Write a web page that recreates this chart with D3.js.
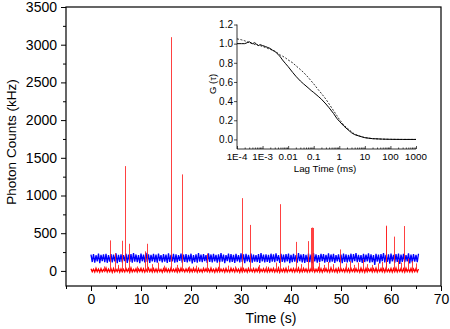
<!DOCTYPE html>
<html><head><meta charset="utf-8">
<script src="https://cdn.jsdelivr.net/npm/d3@7"></script>
<style>
html,body{margin:0;padding:0;background:#fff;}
text{font-family:"Liberation Sans",Arial,sans-serif;fill:#000;}
</style></head>
<body><svg id="c" width="450" height="329"></svg>
<script>
// ---------- data ----------
const timeStep = 0.5; // seconds between samples
const blueHigh = [215,222,208,230,212,219,226,210,224,217, 233,214,221,209,228,216,223,236,218,211,
 229,215,240,220,213,227,218,231,209,222, 216,234,212,225,219,208,230,217,223,214,
 228,211,221,235,215,224,210,232,218,226, 213,220,238,216,209,229,222,214,227,211,
 233,219,225,212,230,217,208,224,236,215, 221,213,228,219,234,210,226,217,222,231,
 214,225,209,237,218,223,212,229,216,235, 220,211,227,224,213,232,218,226,210,221,
 215,230,219,212,228,222,236,214,209,225, 217,233,220,211,227,216,224,238,213,219,
 229,212,222,231,215,226,210,234,218,223, 214,228];
const blueLow = [118,110,125,104,131,115,108,122,112,127, 103,119,114,129,107,121,111,124,116,102,
 128,113,120,106,125,117,109,130,112,123, 105,119,126,110,116,132,108,121,114,127,
 101,118,111,124,115,129,106,120,113,126, 109,117,122,104,130,112,119,107,125,114,
 121,103,128,116,110,123,118,105,127,112, 120,108,124,115,131,106,119,113,126,102,
 117,122,110,128,114,107,121,116,104,125, 111,118,129,109,120,113,123,106,127,115,
 102,119,112,124,108,130,116,121,105,118, 126,111,117,80,123,98,128,114,120,95,
 125,110,118,92,121,115,127,100,112,122, 117,119];
const redHigh = [28,22,35,25,31,19,38,24,29,33, 21,36,27,23,32,26,39,20,30,25,
 34,28,22,37,24,31,27,35,21,29, 33,25,38,23,30,26,36,22,28,32,
 24,37,27,31,20,34,29,25,39,23, 30,35,26,28,33,21,36,27,32,24,
 38,29,25,34,22,31,27,37,23,30, 26,35,28,33,21,39,25,30,36,24,
 29,32,27,38,23,34,26,31,28,35, 22,37,30,25,33,27,40,24,29,36,
 31,26,38,28,34,23,32,27,39,30, 35,25,33,29,37,26,31,28,36,24,
 34,30,38,27,32,29,36,25,33,28, 31,27];
const redLow = [-10,-14,-8,-16,-11,-6,-13,-9,-17,-12, -7,-15,-10,-13,-8,-18,-11,-9,-14,-6,
 -12,-16,-10,-8,-15,-11,-13,-7,-17,-9, -12,-14,-8,-10,-16,-11,-6,-13,-9,-15,
 -12,-8,-17,-10,-14,-7,-11,-13,-9,-16, -10,-12,-8,-15,-11,-14,-6,-13,-9,-17,
 -12,-10,-15,-8,-11,-14,-9,-16,-7,-12, -13,-10,-8,-15,-11,-17,-9,-12,-14,-6,
 -10,-13,-8,-16,-11,-9,-14,-12,-7,-15, -10,-13,-17,-8,-11,-14,-9,-12,-16,-10,
 -7,-13,-11,-15,-8,-12,-10,-14,-9,-17, -11,-6,-13,-10,-15,-8,-12,-14,-9,-11,
 -16,-10,-13,-7,-12,-15,-9,-11,-14,-8, -12,-10];
const spikeTimes  = [2.5,3.7,4.7,5.3,6.1,6.7,7.6,9.2,10.7,11.2,12.1,13.3,14.6,15.9,17.2,18.1,19.5,21.0,23.2,25.6,
 27.4,28.8,30.1,31.7,33.5,35.0,36.9,37.7,39.3,40.9,42.0,43.3,44.0,44.2,44.4,45.6,46.5,47.4,48.3,49.7,
 51.0,51.8,52.6,53.4,54.3,55.2,56.1,57.3,58.2,58.9,59.0,60.5,61.3,62.0,62.5,63.4,64.2,64.9];
const spikeValues = [60,405,235,80,400,1390,360,60,260,360,90,110,70,3100,80,1280,60,70,230,120,
 70,60,965,610,80,60,110,885,70,385,90,395,570,575,570,110,80,120,90,285,
 100,130,80,110,150,90,80,100,120,600,590,455,140,110,595,160,130,100];

const lagTimes = [1e-4,1.5e-4,2e-4,2.5e-4,3e-4,4e-4,5e-4,6e-4,7e-4,8e-4,1e-3,1.3e-3,1.6e-3,2e-3,2.5e-3,3e-3,4e-3,5e-3,6e-3,8e-3,
 0.01,0.015,0.02,0.03,0.04,0.06,0.08,0.1,0.15,0.2,0.3,0.4,0.6,0.8,1,1.5,2,3,4,6,8,10,20,50,100,300,1000];
const gSolid = [1.00,1.00,1.00,1.01,1.02,1.00,1.01,0.99,0.98,0.99,0.98,0.97,0.96,0.95,0.93,0.92,0.89,0.86,0.83,0.79,
 0.76,0.70,0.66,0.61,0.58,0.54,0.51,0.49,0.45,0.42,0.37,0.33,0.27,0.22,0.19,0.14,0.11,0.07,0.05,0.035,0.025,0.018,0.008,0.003,0.001,0.0,0.0];
const gDashed = [1.05,1.04,1.03,1.02,1.01,1.00,0.99,0.99,0.98,0.98,0.97,0.96,0.95,0.94,0.93,0.92,0.90,0.88,0.87,0.85,
 0.83,0.80,0.77,0.73,0.70,0.65,0.61,0.58,0.52,0.48,0.42,0.37,0.30,0.25,0.21,0.15,0.12,0.08,0.055,0.037,0.026,0.019,0.008,0.003,0.001,0.0,0.0];

const xTickVals = [0,10,20,30,40,50,60,70];
const yTickVals = [0,500,1000,1500,2000,2500,3000,3500];
const insetXTicks = [1e-4,1e-3,0.01,0.1,1,10,100,1000];
const insetXLabels = ["1E-4","1E-3","0.01","0.1","1","10","100","1000"];
const insetYTicks = [0.0,0.2,0.4,0.6,0.8,1.0,1.2];

// ---------- main chart ----------
const svg = d3.select("#c");
const x = d3.scaleLinear().domain([-5,70]).range([66,441]);
const y = d3.scaleLinear().domain([-200,3500]).range([286,7]);

// blue trace (zigzag between high and low samples)
const bluePts = [];
blueHigh.forEach((v,i)=>{
  bluePts.push([i*timeStep, v]);
  if(i<blueHigh.length-1) bluePts.push([i*timeStep+timeStep/2, blueLow[i]]);
});
const redPts = [];
redHigh.forEach((v,i)=>{
  redPts.push([i*timeStep, v]);
  if(i<redHigh.length-1) redPts.push([i*timeStep+timeStep/2, redLow[i]]);
});
const line = d3.line().x(d=>x(d[0])).y(d=>y(d[1]));
svg.append("path").attr("d",line(bluePts)).attr("fill","none").attr("stroke","#0000ff").attr("stroke-width",1.3);
svg.append("path").attr("d",line(redPts)).attr("fill","none").attr("stroke","#ff0000").attr("stroke-width",1.3);
const px = d => Math.round(x(d)) + 0.5;
svg.append("g").selectAll("line").data(spikeTimes).join("line")
  .attr("x1",px).attr("x2",px)
  .attr("y1",y(0)).attr("y2",(d,i)=>y(spikeValues[i]))
  .attr("stroke","#ff2020").attr("stroke-opacity",0.85).attr("stroke-width",1);

// frame
svg.append("rect").attr("x",66).attr("y",7).attr("width",375).attr("height",279)
  .attr("fill","none").attr("stroke","#000").attr("stroke-width",1.2);

// axes
const xAxis = d3.axisBottom(x).tickValues(xTickVals).tickSize(5).tickPadding(3).tickFormat(d3.format("d"));
const gx = svg.append("g").attr("transform","translate(0,286)").call(xAxis);
gx.select(".domain").remove();
gx.selectAll("text").attr("font-size",14).style("font-family","Liberation Sans, Arial, sans-serif");
const gxm = svg.append("g").attr("transform","translate(0,286)")
  .call(d3.axisBottom(x).tickValues([-5,5,15,25,35,45,55,65]).tickSize(3).tickFormat(""));
gxm.select(".domain").remove();

const yAxis = d3.axisLeft(y).tickValues(yTickVals).tickSize(5).tickPadding(4).tickFormat(d3.format("d"));
const gy = svg.append("g").attr("transform","translate(66,0)").call(yAxis);
gy.select(".domain").remove();
gy.selectAll("text").attr("font-size",14).style("font-family","Liberation Sans, Arial, sans-serif");
const gym = svg.append("g").attr("transform","translate(66,0)")
  .call(d3.axisLeft(y).tickValues([250,750,1250,1750,2250,2750,3250]).tickSize(3).tickFormat(""));
gym.select(".domain").remove();
svg.selectAll(".tick line").attr("stroke","#000").attr("stroke-width",1);

svg.append("text").attr("x",271).attr("y",323).attr("text-anchor","middle").attr("font-size",14).text("Time (s)");
svg.append("text").attr("transform","translate(16,142) rotate(-90)").attr("text-anchor","middle").attr("font-size",13.5).text("Photon Counts (kHz)");

// ---------- inset ----------
const ix = d3.scaleLog().domain([1e-4,1000]).range([237,416]);
const iy = d3.scaleLinear().domain([-0.1,1.2]).range([149,24.5]);
const ins = svg.append("g");
ins.append("line").attr("x1",237).attr("x2",237).attr("y1",iy(1.2)).attr("y2",149).attr("stroke","#000").attr("stroke-width",0.8);
ins.append("line").attr("x1",237).attr("x2",416).attr("y1",149).attr("y2",149).attr("stroke","#000").attr("stroke-width",0.8);
const igy = ins.append("g").attr("transform","translate(237,0)")
  .call(d3.axisLeft(iy).tickValues(insetYTicks).tickSize(3).tickPadding(1).tickFormat(d3.format(".1f")));
igy.select(".domain").remove();
igy.selectAll("text").attr("font-size",10).style("font-family","Liberation Sans, Arial, sans-serif");
const minorLog = [];
insetXTicks.slice(0,-1).forEach(d=>{ for(let k=2;k<10;k++) minorLog.push(d*k); });
const igxm = ins.append("g").attr("transform","translate(0,149)")
  .call(d3.axisTop(ix).tickValues(minorLog).tickSize(1.5).tickFormat(""));
igxm.select(".domain").remove();
const igx = ins.append("g").attr("transform","translate(0,149)")
  .call(d3.axisTop(ix).tickValues(insetXTicks).tickSize(3).tickFormat(""));
igx.select(".domain").remove();
ins.selectAll(".tick line").attr("stroke","#000").attr("stroke-width",0.7);
ins.append("g").selectAll("text").data(insetXTicks).join("text")
  .attr("x",d=>ix(d)).attr("y",160).attr("text-anchor","middle").attr("font-size",9.8)
  .text((d,i)=>insetXLabels[i]);
ins.append("text").attr("x",325).attr("y",172).attr("text-anchor","middle").attr("font-size",9.8).text("Lag Time (ms)");
ins.append("text").attr("transform","translate(216,84) rotate(-90)").attr("text-anchor","middle").attr("font-size",9.5).text("G (τ)");

const iline = d3.line().x((d,i)=>ix(lagTimes[i])).y(d=>iy(d));
ins.append("path").attr("d",iline(gSolid)).attr("fill","none").attr("stroke","#000").attr("stroke-width",1);
ins.append("path").attr("d",iline(gDashed)).attr("fill","none").attr("stroke","#000").attr("stroke-width",0.8).attr("stroke-dasharray","2,1.5");
</script></body></html>
